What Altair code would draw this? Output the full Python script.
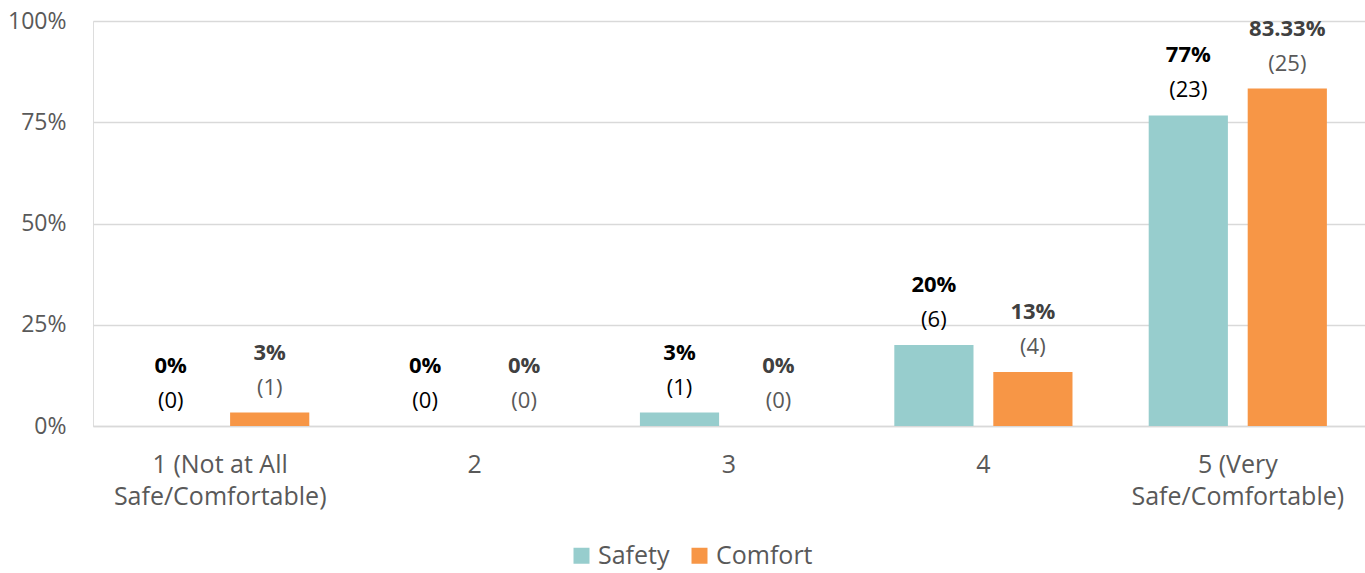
import altair as alt
import pandas as pd

categories = ["1 (Not at All|Safe/Comfortable)", "2", "3", "4", "5 (Very|Safe/Comfortable)"]
series_names = ["Safety", "Comfort"]
safety_pct = [0, 0, 3.33, 20, 76.67]
comfort_pct = [3.33, 0, 0, 13.33, 83.33]
safety_n = [0, 0, 1, 6, 23]
comfort_n = [1, 0, 0, 4, 25]
safety_label = ["0%", "0%", "3%", "20%", "77%"]
comfort_label = ["3%", "0%", "0%", "13%", "83.33%"]
y_ticks = [0, 25, 50, 75, 100]

rows = []
for i, c in enumerate(categories):
    rows.append(dict(cat=c, series="Safety", pct=safety_pct[i], n=f"({safety_n[i]})", lab=safety_label[i]))
    rows.append(dict(cat=c, series="Comfort", pct=comfort_pct[i], n=f"({comfort_n[i]})", lab=comfort_label[i]))
df = pd.DataFrame(rows)

FONT = "Open Sans"

x = alt.X("cat:N", sort=categories, title=None,
          scale=alt.Scale(paddingInner=0, paddingOuter=0),
          axis=alt.Axis(labelAngle=0, labelExpr="split(datum.label, '|')",
                        labelFontSize=25, labelColor="#595959", labelFont=FONT,
                        labelLineHeight=32, labelPadding=26, ticks=False,
                        labelLimit=0,
                        domain=True, domainColor="#d9d9d9", domainWidth=1.5,
                        labelBaseline="top"))
xo = alt.XOffset("series:N", sort=series_names,
                 scale=alt.Scale(paddingInner=0.2, paddingOuter=0.385))
y = alt.Y("pct:Q", title=None,
          scale=alt.Scale(domain=[0, 100], nice=False),
          axis=alt.Axis(values=y_ticks, labelExpr="datum.value + '%'",
                        labelFontSize=23, labelColor="#595959", labelFont=FONT,
                        ticks=False, domain=False, labelPadding=27,
                        grid=True, gridColor="#d9d9d9", gridWidth=1.5))

base = alt.Chart(df)

bars = base.mark_bar().encode(
    x=x, xOffset=xo, y=y,
    color=alt.Color("series:N", sort=series_names,
                    scale=alt.Scale(domain=series_names, range=["#97CDCD", "#F79646"]),
                    legend=alt.Legend(title=None, orient="none", direction="horizontal",
                                      legendX=476, legendY=522,
                                      symbolType="square", symbolSize=256,
                                      symbolStrokeWidth=0,
                                      labelFontSize=25, labelColor="#595959", labelFont=FONT,
                                      columnPadding=17, labelOffset=4)),
)

txt_color = alt.condition(alt.datum.series == "Safety", alt.value("#000000"), alt.value("#404040"))
n_color = alt.condition(alt.datum.series == "Safety", alt.value("#000000"), alt.value("#595959"))

pct_text = base.mark_text(dy=-60, fontSize=22, fontWeight="bold", font=FONT).encode(
    x=x, xOffset=xo, y=y, text="lab:N", color=txt_color)
n_text = base.mark_text(dy=-25, fontSize=22, font=FONT).encode(
    x=x, xOffset=xo, y=y, text="n:N", color=n_color)

chart = alt.layer(bars, pct_text, n_text).properties(
    width=1272, height=405,
    autosize=alt.AutoSizeParams(type="none"),
    padding={"left": 93, "top": 21, "right": 0, "bottom": 147},
).configure_view(stroke=None).configure(background="white")

chart.save("out.html", embed_options={"renderer": "svg", "actions": False})
